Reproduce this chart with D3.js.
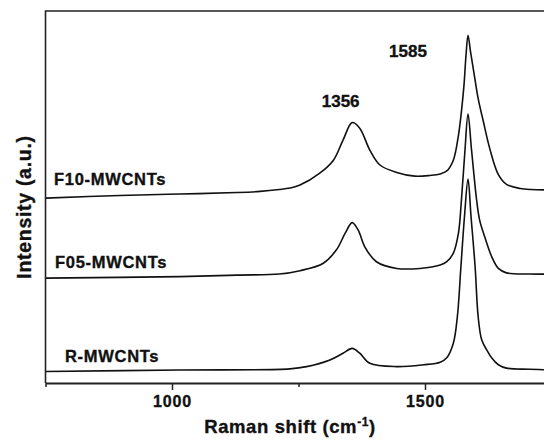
<!DOCTYPE html>
<html>
<head>
<meta charset="utf-8">
<script src="https://cdn.jsdelivr.net/npm/d3@7/dist/d3.min.js"></script>
<style>
  body { margin: 0; background: #fff; }
  text { font-family: "Liberation Sans", Arial, Helvetica, sans-serif; font-weight: bold; fill: #111; stroke: #111; stroke-width: 0.35px; }
</style>
</head>
<body>
<svg id="chart" width="544" height="441"></svg>
<script>
// Raman spectra of three MWCNT samples (offset vertically, arbitrary units)
const seriesNames = ["F10-MWCNTs", "F05-MWCNTs", "R-MWCNTs"];

const f10Shift     = [750, 897, 1016, 1128, 1174, 1212, 1233, 1253, 1292, 1319, 1338, 1356, 1371, 1391, 1411, 1444, 1480, 1510, 1530, 1543, 1556, 1566, 1572, 1577, 1581, 1585, 1590, 1596, 1605, 1615, 1628, 1645, 1661, 1688, 1710, 1750];
const f10Intensity = [49.7, 50.4, 50.8, 51.2, 51.5, 52.0, 52.4, 53.2, 56.4, 59.9, 65.3, 70.0, 68.5, 62.6, 58.6, 56.6, 55.6, 55.8, 56.2, 57.0, 59.9, 66.5, 73.0, 80.0, 88.0, 93.5, 89.0, 84.0, 76.5, 70.5, 63.0, 56.0, 53.4, 52.3, 52.0, 51.9];

const f05Shift     = [750, 1016, 1128, 1212, 1253, 1299, 1325, 1342, 1356, 1368, 1381, 1404, 1444, 1490, 1530, 1543, 1556, 1566, 1572, 1579, 1585, 1592, 1602, 1608, 1618, 1632, 1645, 1661, 1707, 1750];
const f05Intensity = [28.2, 28.6, 29.0, 29.3, 30.2, 32.2, 35.8, 40.2, 43.1, 41.1, 36.6, 32.6, 30.8, 30.8, 31.7, 32.6, 34.9, 40.2, 49.2, 62.6, 72.3, 62.6, 49.2, 43.8, 39.3, 33.9, 30.8, 29.6, 29.3, 29.3];

const rShift       = [750, 1016, 1233, 1266, 1312, 1338, 1356, 1371, 1391, 1444, 1497, 1530, 1543, 1556, 1564, 1571, 1578, 1585, 1591, 1599, 1605, 1612, 1622, 1632, 1645, 1661, 1707, 1750];
const rIntensity   = [3.1, 3.5, 3.8, 4.4, 6.2, 8.0, 9.3, 8.0, 5.3, 4.4, 4.9, 5.6, 6.8, 10.7, 17.9, 31.3, 44.7, 54.8, 44.7, 31.3, 17.9, 11.6, 8.9, 6.7, 4.9, 4.0, 3.7, 3.5];

const peakLabels   = [1356, 1585];
const majorTicks   = [1000, 1500];
const minorTicks   = [750, 1250, 1750];

const svg = d3.select("#chart");
const margin = { left: 45.5, right: 551.5, top: 11, bottom: 383 };

const x = d3.scaleLinear().domain([750, 1750]).range([margin.left, margin.right]);
const y = d3.scaleLinear().domain([0, 100]).range([margin.bottom, margin.top]);

const spectra = [
  { name: seriesNames[0], shift: f10Shift, intensity: f10Intensity },
  { name: seriesNames[1], shift: f05Shift, intensity: f05Intensity },
  { name: seriesNames[2], shift: rShift,   intensity: rIntensity }
];

const line = d3.line()
  .x(d => x(d[0]))
  .y(d => y(d[1]))
  .curve(d3.curveCatmullRom.alpha(0.5));

svg.append("defs").append("clipPath").attr("id", "plotClip")
  .append("rect").attr("x", margin.left).attr("y", margin.top)
  .attr("width", margin.right - margin.left).attr("height", margin.bottom - margin.top);

svg.append("g").attr("clip-path", "url(#plotClip)")
  .selectAll("path.spectrum")
  .data(spectra)
  .join("path")
  .attr("class", "spectrum")
  .attr("fill", "none")
  .attr("stroke", "#111")
  .attr("stroke-width", 1.6)
  .attr("stroke-linejoin", "round")
  .attr("d", s => line(s.shift.map((v, i) => [v, s.intensity[i]])));

// frame: top edge and left edge
svg.append("path")
  .attr("d", `M${margin.right},${margin.top}H${margin.left}V${margin.bottom}`)
  .attr("fill", "none").attr("stroke", "#222").attr("stroke-width", 1.6);

// bottom axis: labelled major ticks and unlabelled minor ticks
const axisMajor = d3.axisBottom(x).tickValues(majorTicks).tickSize(7).tickSizeOuter(0).tickPadding(6)
  .tickFormat(d3.format("d"));
const gx = svg.append("g").attr("transform", `translate(0,${margin.bottom})`).call(axisMajor);
gx.select(".domain").attr("stroke", "#222").attr("stroke-width", 2);
gx.selectAll(".tick line").attr("stroke", "#222").attr("stroke-width", 1.5);
gx.selectAll(".tick text").attr("font-size", 16).attr("letter-spacing", "0.8px")
  .style("font-family", '"Liberation Sans", Arial, sans-serif').style("font-weight", "bold")
  .attr("fill", "#111").attr("stroke", "#111").attr("stroke-width", 0.35);

const axisMinor = d3.axisBottom(x).tickValues(minorTicks).tickSize(4).tickSizeOuter(0).tickFormat("");
const gm = svg.append("g").attr("transform", `translate(0,${margin.bottom})`).call(axisMinor);
gm.select(".domain").remove();
gm.selectAll(".tick line").attr("stroke", "#222").attr("stroke-width", 1.5);

// axis titles
const xTitle = svg.append("text")
  .attr("x", 290).attr("y", 433)
  .attr("text-anchor", "middle")
  .attr("font-size", 18.5)
  .attr("letter-spacing", "0.6px");
xTitle.append("tspan").text("Raman shift (cm");
xTitle.append("tspan").attr("font-size", 12).attr("dy", -7).text("-1");
xTitle.append("tspan").attr("dy", 7).text(")");

svg.append("text")
  .attr("transform", "translate(31,207) rotate(-90)")
  .attr("text-anchor", "middle")
  .attr("font-size", 19.5)
  .attr("letter-spacing", "0.7px")
  .text("Intensity (a.u.)");

// sample names beside each baseline
const nameX = [54, 55, 65];
const nameY = [185, 268, 361.5];
svg.selectAll("text.sample")
  .data(spectra)
  .join("text")
  .attr("class", "sample")
  .attr("x", (d, i) => nameX[i])
  .attr("y", (d, i) => nameY[i])
  .attr("font-size", 16.5)
  .attr("letter-spacing", "0.7px")
  .text(d => d.name);

// peak position labels (D and G bands)
const peakDx = [-11.5, -60];
const peakY = [107, 56.5];
svg.selectAll("text.peak")
  .data(peakLabels)
  .join("text")
  .attr("class", "peak")
  .attr("x", (d, i) => x(d) + peakDx[i])
  .attr("y", (d, i) => peakY[i])
  .attr("text-anchor", "middle")
  .attr("font-size", 17)
  .text(d => d);
</script>
</body>
</html>
